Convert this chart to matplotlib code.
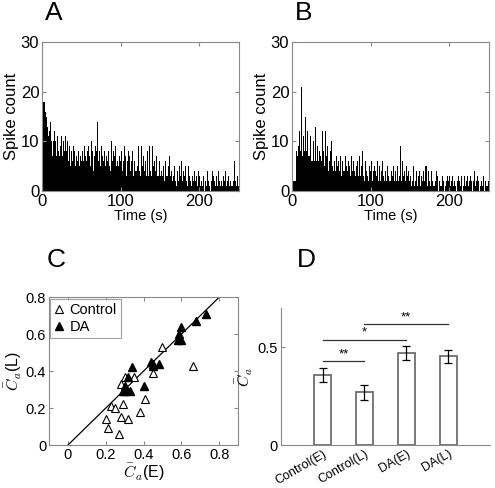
import matplotlib

matplotlib.use("Agg")
import matplotlib.pyplot as plt
import numpy as np

plt.rcParams["font.family"] = ["Liberation Sans", "DejaVu Sans"]
plt.rcParams["mathtext.fontset"] = "cm"

# --- Data ---------------------------------------------------------------------
# spike counts per 1 s bin, 0-250 s
counts_a = [
    4, 18, 17, 18, 16, 15, 13, 15, 11, 12,
    14, 10, 11, 7, 10, 12, 8, 10, 7, 11,
    8, 10, 7, 9, 11, 7, 6, 10, 8, 11,
    7, 8, 10, 6, 9, 7, 5, 8, 6, 9,
    6, 8, 5, 7, 9, 6, 8, 5, 7, 10,
    6, 8, 6, 9, 5, 7, 6, 8, 5, 9,
    7, 5, 10, 6, 8, 4, 7, 9, 5, 8,
    14, 6, 14, 8, 5, 9, 7, 10, 6, 8,
    5, 7, 9, 6, 8, 5, 7, 4, 10, 6,
    8, 5, 7, 9, 5, 6, 10, 5, 7, 6,
    5, 8, 4, 6, 9, 5, 7, 3, 6, 8,
    4, 7, 4, 6, 5, 8, 3, 6, 4, 7,
    4, 5, 9, 4, 6, 3, 9, 5, 4, 7,
    4, 6, 3, 5, 8, 3, 9, 4, 6, 3,
    9, 5, 3, 6, 4, 7, 3, 5, 3, 6,
    3, 4, 7, 3, 5, 2, 4, 6, 3, 3,
    5, 3, 7, 3, 4, 2, 6, 3, 5, 2,
    3, 1, 4, 2, 5, 2, 3, 6, 2, 4,
    2, 3, 5, 2, 4, 1, 5, 3, 2, 4,
    1, 3, 2, 4, 1, 2, 3, 1, 4, 2,
    3, 1, 2, 4, 1, 3, 0, 2, 3, 1,
    4, 2, 1, 3, 0, 2, 4, 1, 3, 2,
    1, 3, 2, 1, 4, 2, 1, 3, 2, 1,
    3, 1, 2, 4, 1, 2, 1, 3, 1, 2,
    1, 3, 1, 2, 6, 1, 2, 1, 3, 1,
]
counts_b = [
    0, 2, 2, 2, 2, 8, 7, 13, 9, 12,
    8, 10, 21, 7, 11, 8, 10, 15, 8, 12,
    7, 9, 7, 11, 6, 8, 6, 10, 6, 13,
    7, 6, 9, 6, 8, 5, 7, 6, 12, 6,
    8, 5, 12, 7, 5, 9, 4, 6, 8, 5,
    10, 5, 4, 8, 6, 4, 7, 5, 4, 6,
    4, 7, 3, 5, 6, 4, 4, 7, 3, 5,
    4, 6, 3, 5, 3, 7, 4, 3, 6, 4,
    3, 5, 4, 6, 3, 7, 4, 3, 5, 8,
    3, 5, 2, 6, 4, 3, 7, 2, 5, 4,
    3, 6, 2, 4, 5, 2, 4, 3, 6, 2,
    3, 5, 2, 4, 2, 6, 3, 2, 4, 3,
    2, 5, 3, 2, 6, 2, 4, 3, 2, 5,
    2, 4, 2, 3, 5, 2, 3, 9, 4, 2,
    6, 3, 1, 4, 2, 5, 3, 1, 4, 2,
    3, 1, 4, 2, 5, 1, 3, 2, 4, 1,
    3, 2, 4, 1, 3, 2, 1, 4, 2, 5,
    3, 5, 1, 4, 2, 3, 1, 4, 2, 1,
    3, 1, 2, 4, 1, 3, 0, 2, 1, 3,
    1, 3, 2, 0, 3, 1, 2, 3, 1, 2,
    3, 1, 2, 0, 3, 1, 2, 1, 3, 0,
    2, 3, 1, 2, 1, 3, 0, 2, 1, 3,
    1, 2, 0, 3, 1, 2, 1, 3, 2, 0,
    2, 1, 4, 1, 2, 3, 1, 2, 0, 1,
    4, 2, 1, 3, 0, 1, 2, 1, 1, 2,
]

# panel C: mean C_a early vs late, per cell
ctrl_e = [0.20, 0.21, 0.23, 0.25, 0.27, 0.28, 0.29, 0.32, 0.30, 0.28,
          0.38, 0.41, 0.45, 0.50, 0.66, 0.35]
ctrl_l = [0.14, 0.09, 0.21, 0.20, 0.06, 0.15, 0.22, 0.14, 0.37, 0.33,
          0.18, 0.25, 0.39, 0.53, 0.43, 0.37]
da_e = [0.32, 0.30, 0.29, 0.30, 0.33, 0.34, 0.40, 0.44, 0.45, 0.45,
        0.48, 0.58, 0.59, 0.60, 0.60, 0.68, 0.73]
da_l = [0.37, 0.32, 0.29, 0.29, 0.29, 0.42, 0.32, 0.45, 0.44, 0.43,
        0.44, 0.57, 0.60, 0.64, 0.57, 0.67, 0.71]

# panel D: group means +- s.e.m.
groups = ["Control(E)", "Control(L)", "DA(E)", "DA(L)"]
means = [0.36, 0.27, 0.47, 0.455]
errs = [0.035, 0.037, 0.035, 0.033]
# significance brackets: (from group, to group, height, label)
sig = [(0, 1, 0.43, "**"), (0, 2, 0.54, "*"), (1, 3, 0.62, "**")]

FS = 10.5
SPINE = "#8a8a8a"

fig = plt.figure(figsize=(4.95, 4.88), dpi=100)


def matlab_box(ax, size=FS):
    for s in ax.spines.values():
        s.set_color(SPINE)
        s.set_linewidth(0.8)
    ax.tick_params(direction="in", top=True, right=True, length=3,
                   color=SPINE, labelsize=size, pad=2)


# --- A / B: spike count histograms ------------------------------------------
for counts, left, letter in ((counts_a, 0.085, "A"), (counts_b, 0.590, "B")):
    ax = fig.add_axes([left, 0.6086, 0.397, 0.305])
    t = np.arange(len(counts))
    ax.bar(t, counts, width=1.0, align="edge", color="black", linewidth=0)
    ax.set_xlim(0, 250)
    ax.set_ylim(0, 30)
    ax.set_xticks([0, 100, 200])
    ax.set_yticks([0, 10, 20, 30])
    matlab_box(ax, size=12)
    ax.set_xlabel("Time (s)", fontsize=10.5, labelpad=0.5)
    ax.set_ylabel("Spike count", fontsize=12, labelpad=1)
    fig.text(left + 0.005, 0.958, letter, fontsize=19, va="baseline")

# --- C: scatter E vs L ------------------------------------------------------
axc = fig.add_axes([0.099, 0.088, 0.382, 0.303])
axc.plot([0, 1], [0, 1], color="black", lw=0.9)
axc.plot(ctrl_e, ctrl_l, ls="none", marker="^", ms=5.5, mfc="white",
         mec="black", mew=0.8, label="Control")
axc.plot(da_e, da_l, ls="none", marker="^", ms=5.5, mfc="black",
         mec="black", label="DA")
axc.set_xlim(-0.1, 0.9)
axc.set_ylim(0, 0.8)
axc.set_xticks([0, 0.2, 0.4, 0.6, 0.8])
axc.set_xticklabels(["0", "0.2", "0.4", "0.6", "0.8"])
axc.set_yticks([0, 0.2, 0.4, 0.6, 0.8])
axc.set_yticklabels(["0", "0.2", "0.4", "0.6", "0.8"])
matlab_box(axc)
axc.set_xlabel(r"$\bar{C}_a$(E)", fontsize=FS + 1, labelpad=0)
axc.set_ylabel(r"$\bar{C}_a$(L)", fontsize=FS + 1, labelpad=1)
leg = axc.legend(loc="upper left", fontsize=FS, handlelength=0.6,
                 handletextpad=0.4, borderpad=0.3, labelspacing=0.2,
                 fancybox=False, borderaxespad=0.1)
leg.get_frame().set_edgecolor(SPINE)
leg.get_frame().set_linewidth(0.8)
fig.text(0.095, 0.452, "C", fontsize=19, va="baseline")

# --- D: bar chart -----------------------------------------------------------
axd = fig.add_axes([0.567, 0.088, 0.423, 0.280])
x = np.arange(1, len(groups) + 1)
axd.bar(x, means, width=0.4, color="white", edgecolor="#6e6e6e", linewidth=1.3)
axd.errorbar(x, means, yerr=errs, fmt="none", ecolor="black", elinewidth=0.9,
             capsize=3, capthick=0.9)
for i, j, h, lab in sig:
    axd.plot([x[i], x[j]], [h, h], color="#333333", lw=0.9)
    axd.text((x[i] + x[j]) / 2, h + 0.005, lab, ha="center", va="bottom",
             fontsize=FS - 1)
axd.set_xlim(0, 5)
axd.set_ylim(0, 0.7)
axd.set_yticks([0, 0.5])
axd.set_yticklabels(["0", "0.5"])
axd.set_xticks(x)
axd.set_xticklabels(groups, rotation=30, ha="right", rotation_mode="anchor",
                    fontsize=FS - 1.5)
for s in ("top", "right"):
    axd.spines[s].set_visible(False)
for s in ("left", "bottom"):
    axd.spines[s].set_color(SPINE)
    axd.spines[s].set_linewidth(0.8)
axd.tick_params(axis="y", direction="in", length=3, color=SPINE, labelsize=FS, pad=2)
axd.tick_params(axis="x", length=0, pad=2)
axd.set_ylabel(r"$\bar{C}_a$", fontsize=FS + 1, labelpad=2)
fig.text(0.600, 0.452, "D", fontsize=19, va="baseline")

fig.savefig("out.png", dpi=100)
